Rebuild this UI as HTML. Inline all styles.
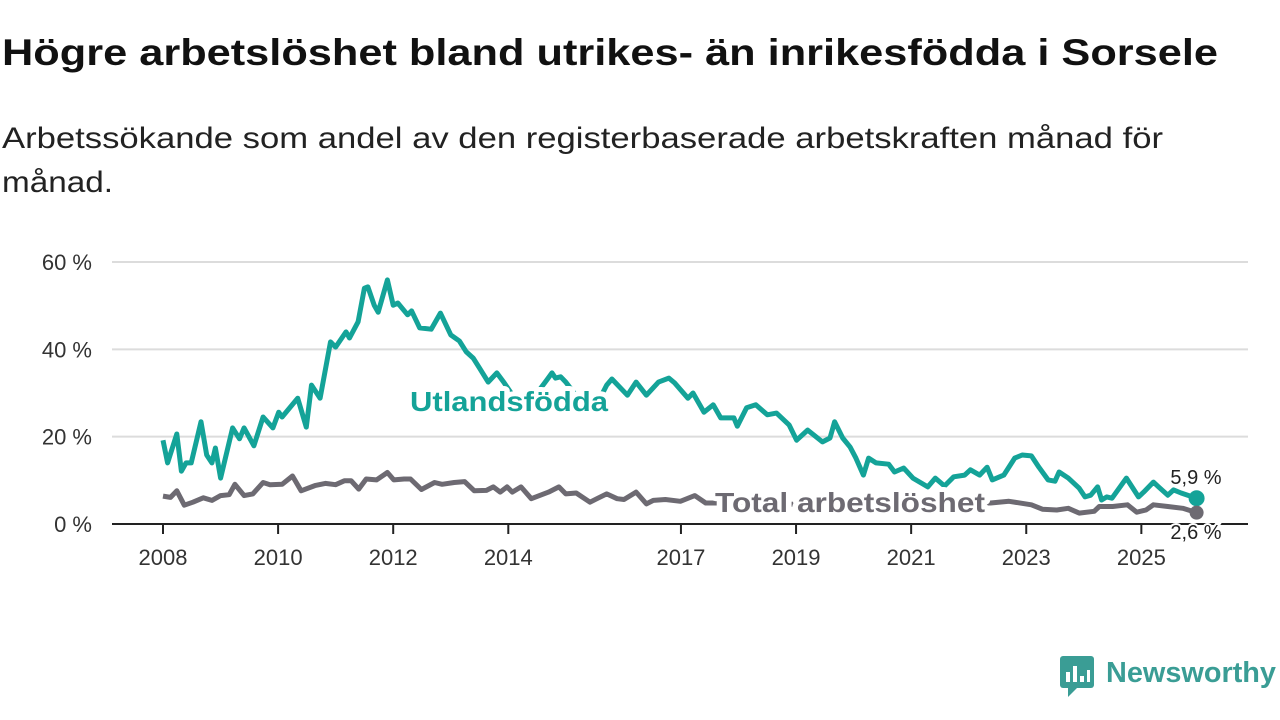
<!DOCTYPE html>
<html><head><meta charset="utf-8"><style>
html,body{margin:0;padding:0;background:#fff;}
svg{display:block;font-family:"Liberation Sans",sans-serif;}
</style></head><body>
<svg id="chart" width="1280" height="720" viewBox="0 0 1280 720">
<text x="2" y="65" font-size="37" font-weight="bold" fill="#111" textLength="1216" lengthAdjust="spacingAndGlyphs">Högre arbetslöshet bland utrikes- än inrikesfödda i Sorsele</text>
<text x="2" y="148" font-size="30" fill="#222" textLength="1161" lengthAdjust="spacingAndGlyphs">Arbetssökande som andel av den registerbaserade arbetskraften månad för</text>
<text x="2" y="192" font-size="30" fill="#222" textLength="111" lengthAdjust="spacingAndGlyphs">månad.</text>
<g id="grid"></g><g id="lines"></g><g id="labels"></g>
<g>
<rect x="1060" y="656" width="34" height="32" rx="3" fill="#3a9d95"/>
<polygon points="1068,688 1068,697 1077,688" fill="#3a9d95"/>
<rect x="1066" y="672" width="4" height="10" fill="#fff"/><rect x="1073" y="666" width="4" height="16" fill="#fff"/><rect x="1080" y="676" width="4" height="6" fill="#fff"/><rect x="1087" y="670" width="3" height="12" fill="#fff"/>
<text x="1106" y="682" font-size="29" font-weight="bold" fill="#3a9d95" textLength="170" lengthAdjust="spacingAndGlyphs">Newsworthy</text>
</g>
</svg>
<script>
const utlYears=[2008.0,2008.08,2008.24,2008.32,2008.4,2008.49,2008.66,2008.76,2008.85,2008.91,2009.0,2009.21,2009.33,2009.41,2009.58,2009.74,2009.91,2010.01,2010.07,2010.34,2010.49,2010.58,2010.73,2010.91,2011.0,2011.18,2011.24,2011.39,2011.5,2011.56,2011.67,2011.74,2011.9,2012.0,2012.08,2012.25,2012.32,2012.46,2012.66,2012.82,2013.0,2013.15,2013.27,2013.39,2013.5,2013.65,2013.8,2013.92,2014.1,2014.3,2014.5,2014.67,2014.76,2014.82,2014.91,2015.0,2015.2,2015.4,2015.6,2015.71,2015.8,2016.07,2016.22,2016.4,2016.61,2016.79,2016.89,2017.12,2017.21,2017.4,2017.56,2017.69,2017.92,2017.98,2018.14,2018.3,2018.5,2018.66,2018.88,2019.01,2019.2,2019.46,2019.59,2019.67,2019.81,2019.94,2020.04,2020.17,2020.26,2020.39,2020.61,2020.71,2020.87,2021.03,2021.29,2021.42,2021.58,2021.74,2021.93,2022.03,2022.19,2022.32,2022.41,2022.61,2022.8,2022.93,2023.09,2023.22,2023.38,2023.5,2023.57,2023.73,2023.92,2024.02,2024.12,2024.24,2024.31,2024.4,2024.49,2024.74,2024.95,2025.04,2025.21,2025.3,2025.46,2025.56,2025.69,2025.96];
const utlValues=[19.2,14,20.6,12.1,14,14,23.4,15.8,14,17.4,10.5,22,19.5,22,17.9,24.5,22,25.6,24.5,28.8,22.2,31.8,28.8,41.7,40.5,44,42.6,46.3,54,54.3,50.1,48.5,55.9,50.1,50.6,47.9,48.8,44.9,44.6,48.3,43.3,41.9,39.4,38,35.7,32.5,34.6,32.5,29,28,30,33,34.6,33.4,33.7,32.5,29,28,29,31.8,33.2,29.5,32.5,29.5,32.5,33.4,32.3,28.8,30,25.6,27.3,24.3,24.3,22.4,26.6,27.3,25,25.4,22.7,19.2,21.5,18.8,19.7,23.4,19.7,17.6,15.1,11.2,15.1,14,13.7,11.9,12.8,10.5,8.5,10.5,8.7,10.8,11.2,12.4,11.2,13,10.1,11.2,15.1,15.8,15.6,13,10.1,9.8,11.9,10.5,8.2,6.2,6.6,8.5,5.5,6.2,5.9,10.5,6.2,7.3,9.6,8.5,6.6,7.8,7.1,5.9];
const totYears=[2008.0,2008.13,2008.24,2008.37,2008.52,2008.7,2008.85,2009.0,2009.15,2009.25,2009.41,2009.56,2009.74,2009.86,2010.07,2010.25,2010.4,2010.64,2010.82,2011.0,2011.15,2011.27,2011.4,2011.53,2011.71,2011.9,2012.01,2012.19,2012.3,2012.49,2012.72,2012.85,2013.06,2013.24,2013.41,2013.62,2013.74,2013.86,2013.98,2014.07,2014.22,2014.4,2014.7,2014.88,2015.0,2015.18,2015.42,2015.54,2015.71,2015.89,2016.01,2016.22,2016.4,2016.52,2016.73,2016.99,2017.24,2017.43,2018.0,2018.5,2019.0,2019.5,2020.0,2020.4,2020.8,2021.3,2021.8,2022.38,2022.7,2023.09,2023.28,2023.53,2023.73,2023.92,2024.18,2024.27,2024.5,2024.76,2024.92,2025.08,2025.21,2025.46,2025.72,2025.96];
const totValues=[6.4,6.1,7.6,4.3,5.0,6.0,5.4,6.5,6.7,9.1,6.5,6.9,9.5,9.0,9.1,11.0,7.6,8.8,9.3,9.0,9.9,9.9,8.0,10.3,10.1,11.8,10.1,10.3,10.3,7.9,9.5,9.1,9.5,9.7,7.6,7.7,8.5,7.3,8.5,7.3,8.5,5.8,7.3,8.5,6.9,7.1,5.0,5.8,6.9,5.8,5.6,7.3,4.6,5.4,5.6,5.2,6.5,4.8,4.8,4.6,4.5,4.8,5.5,5.6,5.2,5.0,4.8,4.8,5.2,4.4,3.4,3.2,3.6,2.5,2.9,4.0,4.0,4.4,2.7,3.2,4.4,4.0,3.6,2.6];
const yTicks=[0,20,40,60];
const yTickLabels=["0 %","20 %","40 %","60 %"];
const xTicks=[2008,2010,2012,2014,2017,2019,2021,2023,2025];
const xTickLabels=["2008","2010","2012","2014","2017","2019","2021","2023","2025"];

const NS="http://www.w3.org/2000/svg";
const X=y=>163+(y-2008)*57.55;
const Y=v=>524-v*4.367;
function mk(tag,attrs,parent,txt){const e=document.createElementNS(NS,tag);for(const k in attrs)e.setAttribute(k,attrs[k]);if(txt!==undefined)e.textContent=txt;parent.appendChild(e);return e;}
const grid=document.getElementById('grid'),lines=document.getElementById('lines'),labels=document.getElementById('labels');
yTicks.forEach((t,i)=>{
  if(t>0){const g=mk('line',{x1:112,x2:1248,y1:Y(t),y2:Y(t),stroke:'#dcdcdc','stroke-width':2},grid);
  
  }
  const l=mk('text',{x:92,y:Y(t)+8,'font-size':22,'text-anchor':'end',fill:'#333'},grid,yTickLabels[i]);
  
  
});
const ax=mk('line',{x1:112,x2:1248,y1:524,y2:524,stroke:'#222','stroke-width':2},grid);


xTicks.forEach((t,i)=>{
  const tk=mk('line',{x1:X(t),x2:X(t),y1:524,y2:534,stroke:'#222','stroke-width':2},grid);
  
  
  const l=mk('text',{x:X(t),y:565,'font-size':22,'text-anchor':'middle',fill:'#333'},grid,xTickLabels[i]);
  
  
});
function path(ys,vs){return ys.map((y,i)=>(i?'L':'M')+X(y).toFixed(1)+','+Y(vs[i]).toFixed(1)).join(' ');}
const pt=mk('path',{d:path(totYears,totValues),fill:'none',stroke:'#6d6a72','stroke-width':5,'stroke-linejoin':'round'},lines);


const pu=mk('path',{d:path(utlYears,utlValues),fill:'none',stroke:'#14a398','stroke-width':5,'stroke-linejoin':'round'},lines);


const lu=utlYears.length-1,lt=totYears.length-1;
const du=mk('circle',{cx:X(utlYears[lu]),cy:Y(utlValues[lu]),r:8,fill:'#14a398'},lines);


const dt=mk('circle',{cx:X(totYears[lt]),cy:Y(totValues[lt]),r:7,fill:'#6d6a72'},lines);


const halo={stroke:'#fff','stroke-width':10,'paint-order':'stroke','stroke-linejoin':'round'};
const a=mk('text',Object.assign({x:410,y:411,'font-size':28,'font-weight':'bold',fill:'#14a398',textLength:198,lengthAdjust:'spacingAndGlyphs'},halo),labels,'Utlandsfödda');


const b=mk('text',Object.assign({x:715,y:512,'font-size':28,'font-weight':'bold',fill:'#6d6a72',textLength:270,lengthAdjust:'spacingAndGlyphs'},halo),labels,'Total arbetslöshet');


const c=mk('text',Object.assign({x:1196,y:484,'font-size':20,'text-anchor':'middle',fill:'#222',stroke:'#fff','stroke-width':4,'paint-order':'stroke'}),labels,'5,9 %');


const d=mk('text',Object.assign({x:1196,y:539,'font-size':20,'text-anchor':'middle',fill:'#222',stroke:'#fff','stroke-width':4,'paint-order':'stroke'}),labels,'2,6 %');


</script>
</body></html>
